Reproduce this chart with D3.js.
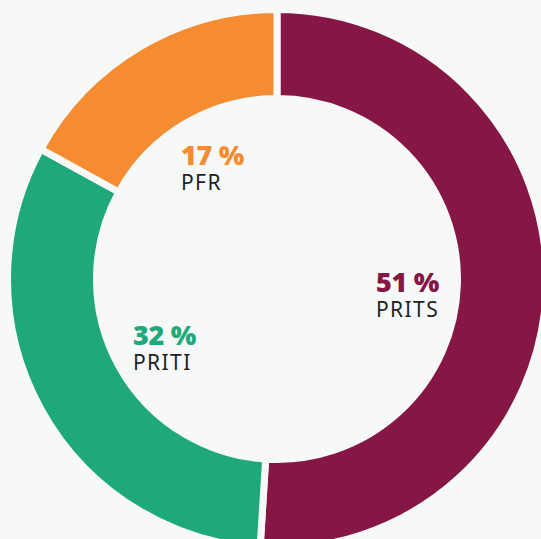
<!DOCTYPE html>
<html>
<head>
<meta charset="utf-8">
<script src="https://cdn.jsdelivr.net/npm/d3@7"></script>
<style>
  body { margin: 0; background: #f7f9f9; }
  svg { display: block; }
  .pct { font-family: "Open Sans", sans-serif; font-weight: 800; font-size: 27px; letter-spacing: -0.3px; }
  .name { font-family: "Noto Sans", sans-serif; font-weight: 400; font-size: 21px; letter-spacing: 1.4px; fill: #231f20; }
</style>
</head>
<body>
<script>
// chart data
var categories = ["PRITS", "PRITI", "PFR"];
var shares = [51, 32, 17];
var colors = ["#861745", "#1fa97b", "#f58c32"];

var width = 541, height = 539;
var cx = 277, cy = 279, outerR = 269.5, innerR = 180.5;

// where the label block sits, relative to the centre
var labelOffset = [[99, 13], [-144, 66], [-96, -114]];

var svg = d3.select("body").append("svg")
  .attr("width", width)
  .attr("height", height);

var table = categories.map(function(c, i) {
  return { name: c, value: shares[i], color: colors[i], off: labelOffset[i] };
});

var pie = d3.pie().sort(null).value(function(d) { return d.value; });
var arc = d3.arc().innerRadius(innerR).outerRadius(outerR);

var g = svg.append("g").attr("transform", "translate(" + cx + "," + cy + ")");

g.selectAll("path")
  .data(pie(table))
  .enter()
  .append("path")
  .attr("d", arc)
  .attr("fill", function(d) { return d.data.color; })
  .attr("stroke", "#f7f9f9")
  .attr("stroke-width", 7)
  .attr("stroke-linejoin", "miter");

var labels = g.selectAll("g.lab")
  .data(table)
  .enter()
  .append("g")
  .attr("class", "lab")
  .attr("transform", function(d) { return "translate(" + d.off[0] + "," + d.off[1] + ")"; });

labels.append("text")
  .attr("class", "pct")
  .attr("fill", function(d) { return d.color; })
  .text(function(d) { return d.value + " %"; });

labels.append("text")
  .attr("class", "name")
  .attr("y", 25)
  .text(function(d) { return d.name; });
</script>
</body>
</html>
